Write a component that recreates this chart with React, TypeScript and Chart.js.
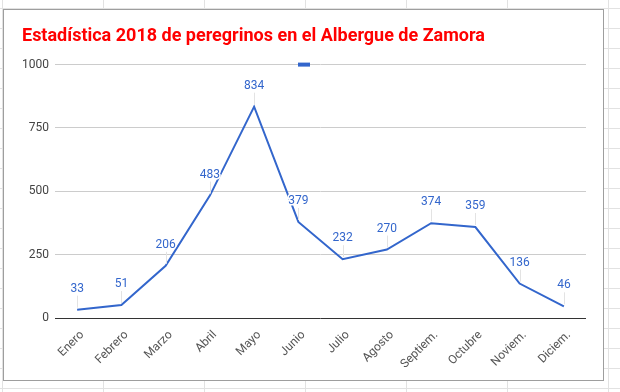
import React, { useEffect, useRef } from "react";
import { Chart, registerables } from "chart.js";

Chart.register(...registerables);

const TITLE = "Estadística 2018 de peregrinos en el Albergue de Zamora";
const months = ["Enero", "Febrero", "Marzo", "Abril", "Mayo", "Junio", "Julio", "Agosto", "Septiem.", "Octubre", "Noviem.", "Diciem."];
const pilgrims = [33, 51, 206, 483, 834, 379, 232, 270, 374, 359, 136, 46];
const yTicks = [0, 250, 500, 750, 1000];

const BLUE = "#3366cc";
const FONT = "Roboto";

const legendMark = {
  id: "legendMark",
  afterDraw(chart: any) {
    const ctx = chart.ctx;
    const a = chart.chartArea;
    ctx.save();
    ctx.fillStyle = BLUE;
    ctx.fillRect(Math.round(chart.width / 2 - 6), a.top - 2, 12, 4);
    ctx.restore();
  },
};

const pointLabels = {
  id: "pointLabels",
  afterDatasetsDraw(chart: any) {
    const ctx = chart.ctx;
    const meta = chart.getDatasetMeta(0);
    const data = chart.data.datasets[0].data;
    ctx.save();
    meta.data.forEach((pt: any) => {
      const x = Math.round(pt.x) + 0.5;
      const y = pt.y;
      ctx.strokeStyle = "#e3e3e3";
      ctx.lineWidth = 1;
      ctx.beginPath();
      ctx.moveTo(x, y - 2);
      ctx.lineTo(x, y - 14);
      ctx.stroke();
    });
    meta.data.forEach((pt: any, i: number) => {
      const x = pt.x;
      const y = pt.y - 21;
      const txt = String(data[i]);
      ctx.font = `12px ${FONT}`;
      ctx.textAlign = "center";
      ctx.textBaseline = "middle";
      ctx.lineJoin = "round";
      ctx.strokeStyle = "#ffffff";
      ctx.lineWidth = 3;
      ctx.strokeText(txt, x, y);
      ctx.fillStyle = BLUE;
      ctx.fillText(txt, x, y);
    });
    ctx.restore();
  },
};

export default function App() {
  const ref = useRef<HTMLCanvasElement | null>(null);

  useEffect(() => {
    if (!ref.current) return;
    const chart = new Chart(ref.current, {
      type: "line",
      data: {
        labels: months,
        datasets: [
          {
            label: "",
            data: pilgrims,
            borderColor: BLUE,
            backgroundColor: BLUE,
            borderWidth: 2,
            pointRadius: 0,
            tension: 0,
            fill: false,
          },
        ],
      },
      options: {
        responsive: false,
        animation: false,
        devicePixelRatio: 1,
        layout: { padding: { left: 18, right: 17, top: 0, bottom: 0 } },
        plugins: {
          legend: { display: false },
          tooltip: { enabled: false },
          title: {
            display: true,
            text: TITLE,
            align: "start",
            color: "#ff0000",
            font: { family: FONT, size: 18, weight: "bold", lineHeight: 1.2 },
            padding: { top: 16, bottom: 17 },
          },
        },
        scales: {
          x: {
            offset: true,
            grid: { display: false, drawTicks: false },
            border: { display: false },
            ticks: {
              autoSkip: false,
              maxRotation: 45,
              minRotation: 45,
              padding: 10,
              labelOffset: 5,
              color: "#555555",
              font: { family: FONT, size: 12 },
            },
            afterFit(scale: any) {
              scale.height = 62;
            },
          },
          y: {
            min: 0,
            max: 1000,
            afterBuildTicks(scale: any) {
              scale.ticks = yTicks.map((v) => ({ value: v }));
            },
            grid: {
              drawTicks: false,
              color: (c: any) => (c.tick && c.tick.value === 0 ? "#333333" : "#cccccc"),
              lineWidth: 1,
            },
            border: { display: false },
            ticks: {
              padding: 6,
              color: "#444444",
              font: { family: FONT, size: 12 },
              callback: (v: any) => String(v),
            },
            afterFit(scale: any) {
              scale.width = 33;
            },
          },
        },
      },
      plugins: [pointLabels, legendMark],
    } as any);
    return () => chart.destroy();
  }, []);

  return (
    <div
      style={{
        position: "fixed",
        inset: 0,
        background: "#ffffff",
        backgroundImage:
          "linear-gradient(to bottom, #e2e2e2 1px, transparent 1px), linear-gradient(to right, #e2e2e2 1px, transparent 1px)",
        backgroundSize: "100% 20px, 101px 100%",
        backgroundPosition: "0 8px, 2px 0",
      }}
    >
      <div
        style={{
          position: "absolute",
          left: 3,
          top: 9,
          width: 601,
          height: 372,
          boxSizing: "border-box",
          border: "1px solid #9e9e9e",
          background: "#ffffff",
        }}
      >
        <canvas ref={ref} width={599} height={370} style={{ display: "block", width: 599, height: 370 }} />
      </div>
    </div>
  );
}
